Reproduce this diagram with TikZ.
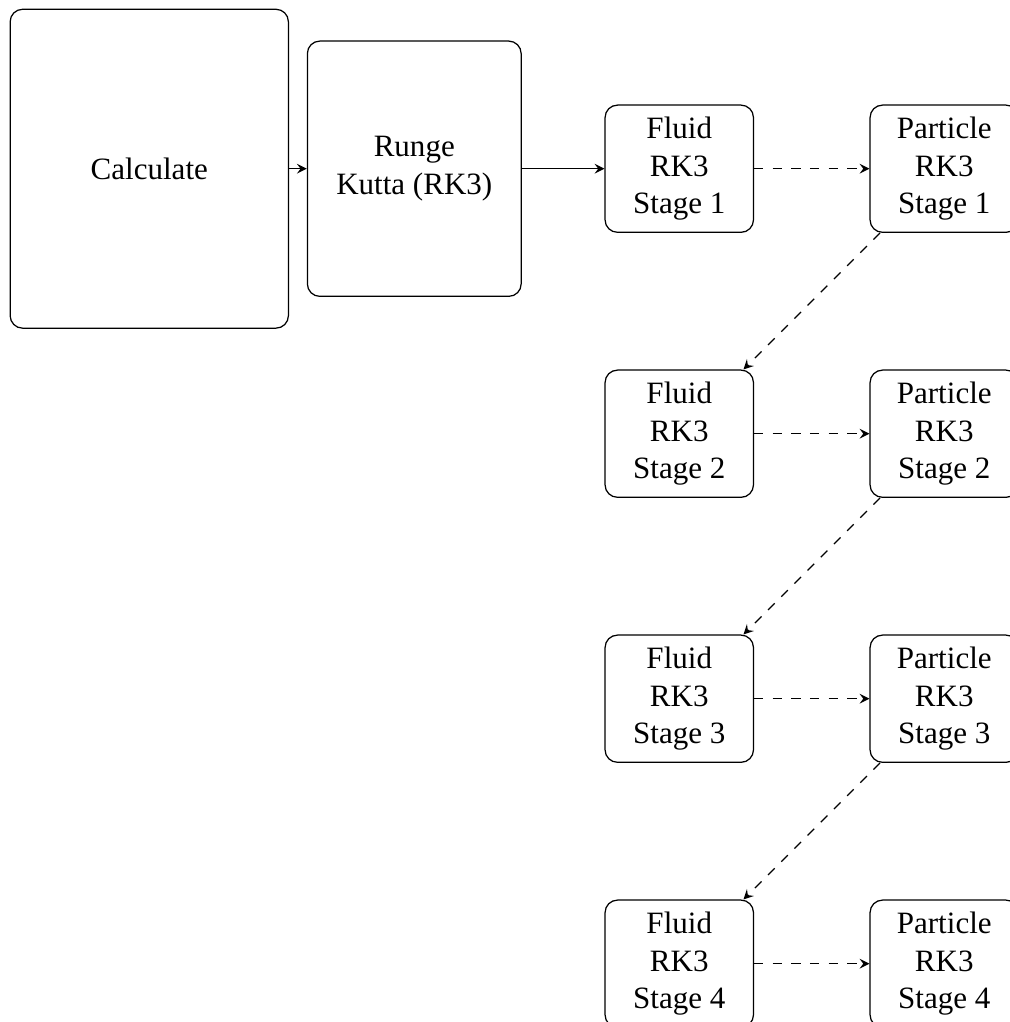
\documentclass[tikz,border=0pt]{standalone}
\usepackage{fontspec}
\setmainfont{Liberation Serif}
\usetikzlibrary{positioning}
\tikzset{
	node distance=3cm and 3cm,
	every text node part/.style= {
		align=center
	},
	layer/.style= {
		rectangle,
		rounded corners,
		black,
		draw
	},
	stage/.style= {
		layer,
		minimum width=1.68cm,
		minimum height=1.44cm
	}
}

\begin{document}
\begin{tikzpicture}[on grid, >=stealth]
	\useasboundingbox (-1.69,1.91) rectangle (9.74,-9.66);
	
	\node (calc)[layer, minimum width=3.15cm, minimum height=3.61cm]{Calculate};
	\node (rk)[layer, right=of calc, minimum width=2.42cm, minimum height=2.89cm]{Runge\\Kutta (RK3)};
	\draw[->](calc) to (rk);
	
	\node (fluid1)[stage, right=of rk]{Fluid\\RK3\\Stage 1};
	\node (particle1)[stage, right=of fluid1]{Particle\\RK3\\Stage 1};
	\draw[->](rk) to (fluid1);
	\draw[->, dashed](fluid1) to (particle1);
	
	\node (fluid2)[stage, below=of fluid1]{Fluid\\RK3\\Stage 2};
	\node (particle2)[stage, right=of fluid2]{Particle\\RK3\\Stage 2};
	\draw[->, dashed](particle1) to (fluid2);
	\draw[->, dashed](fluid2) to (particle2);
	
	\node (fluid3)[stage, below=of fluid2]{Fluid\\RK3\\Stage 3};
	\node (particle3)[stage, right=of fluid3]{Particle\\RK3\\Stage 3};
	\draw[->, dashed](particle2) to (fluid3);
	\draw[->, dashed](fluid3) to (particle3);
	
	\node (fluid4)[stage, below=of fluid3]{Fluid\\RK3\\Stage 4};
	\node (particle4)[stage, right=of fluid4]{Particle\\RK3\\Stage 4};
	\draw[->, dashed](particle3) to (fluid4);
	\draw[->, dashed](fluid4) to (particle4);
	
\end{tikzpicture}
\end{document}
